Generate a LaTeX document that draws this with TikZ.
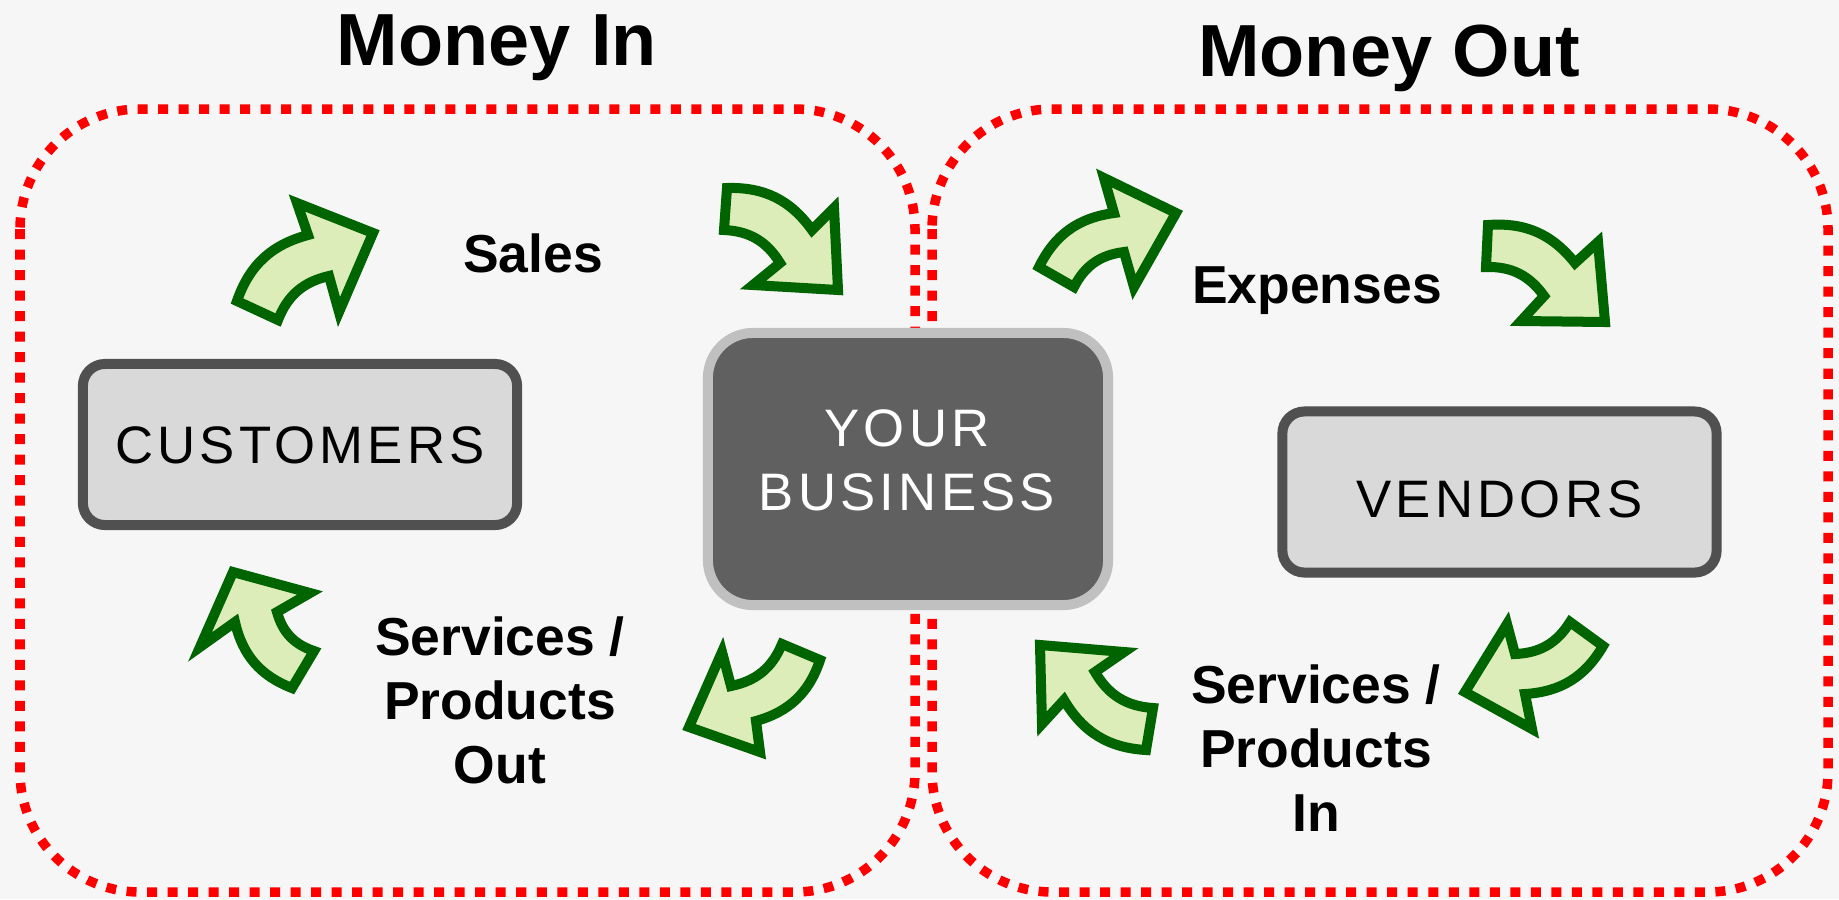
\documentclass[tikz,border=0pt]{standalone}
\usepackage{fontspec}
\setmainfont{Liberation Sans}
\newfontfamily\capsfont[LetterSpace=8]{Liberation Sans}
\usepackage{tikz}

\definecolor{bgcol}{RGB}{246,246,246}
\definecolor{dotred}{RGB}{255,0,0}
\definecolor{boxedge}{RGB}{80,80,80}
\definecolor{boxfill}{RGB}{217,217,217}
\definecolor{bizfill}{RGB}{96,96,96}
\definecolor{bizedge}{RGB}{192,192,192}
\definecolor{arrowgreen}{RGB}{0,100,0}
\definecolor{arrowfill}{RGB}{221,237,186}

\begin{document}
\begin{tikzpicture}[x=0.01cm,y=-0.01cm,
    ttl/.style={font=\bfseries\fontsize{21}{25}\selectfont,anchor=base},
    lbl/.style={font=\bfseries\fontsize{15.2}{18.2}\selectfont,align=center},
    dots/.style={draw=dotred,line width=0.095cm,dash pattern=on 0.1cm off 0.105cm,rounded corners=1.2cm},
    lightbox/.style={draw=boxedge,fill=boxfill,line width=0.1cm,rounded corners=0.22cm,
        minimum width=4.34cm,minimum height=1.61cm,inner sep=0pt,
        font=\capsfont\fontsize{15}{18}\selectfont,text height=0.38cm,text depth=0cm},
    darkbox/.style={draw=bizedge,fill=bizfill,line width=0.1cm,rounded corners=0.45cm,
        minimum width=4cm,minimum height=2.72cm,inner sep=0pt},
    biztext/.style={text=white,align=center,font=\capsfont\fontsize{15}{18.2}\selectfont},
    bent/.style={draw=arrowgreen,fill=arrowfill,line width=0.1cm,line join=miter}]

  \fill[bgcol] (0,0) rectangle (1839,899);
  \useasboundingbox (0,0) rectangle (1839,899);

  \draw[dots] (20,109) rectangle (915,892);
  \draw[dots] (932,109) rectangle (1828,892);

  \node[ttl] (moneyin)  at (497,65) {Money In};
  \node[ttl] (moneyout) at (1389,76) {Money Out};

  \node[lightbox] (cust) at (300,444.5) {CUSTOMERS};
  \node[darkbox]  (biz)  at (908,469) {};
  \node[biztext]  (bizlbl) at (907,460) {YOUR\\BUSINESS};
  \node[lightbox,text height=0.5cm] (vend) at (1499.5,492) {VENDORS};

  \node[lbl,anchor=base] (sales)    at (533,272) {Sales};
  \node[lbl,anchor=base] (expenses) at (1317,303) {Expenses};
  \node[lbl] (svcout) at (500,700) {Services /\\Products\\Out};
  \node[lbl] (svcin)  at (1316,748) {Services /\\Products\\In};

  % money in
  \filldraw[bent] (237,301) to[bend left=28] (308,235) -- (297,203) -- (373,233)
      -- (339,312) -- (329,276) to[bend right=28] (278,320) -- cycle;
  \filldraw[bent] (727,188) to[bend left=28] (812,230) -- (834,208) -- (838,290)
      -- (753,285) -- (780,263) to[bend right=28] (724,230) -- cycle;
  \filldraw[bent] (820,660) to[bend left=28] (756,721) -- (760,752) -- (689,727)
      -- (722,652) -- (731,686) to[bend right=28] (782,644) -- cycle;
  \filldraw[bent] (292,688) to[bend left=28] (235,622) -- (200,647) -- (233,572)
      -- (310,593) -- (277,612) to[bend right=28] (314,651) -- cycle;

  % money out
  \filldraw[bent] (1039,267) to[bend left=28] (1114,213) -- (1104,178) -- (1176,213)
      -- (1134,287) -- (1124,252) to[bend right=28] (1074,287) -- cycle;
  \filldraw[bent] (1488,225) to[bend left=28] (1575,263) -- (1598,242) -- (1605,322)
      -- (1521,321) -- (1544,296) to[bend right=28] (1486,267) -- cycle;
  \filldraw[bent] (1603,646) to[bend left=28] (1525,694) -- (1532,729) -- (1465,692)
      -- (1507,624) -- (1515,654) to[bend right=28] (1570,622) -- cycle;
  \filldraw[bent] (1146,750) to[bend left=28] (1064,700) -- (1042,724) -- (1040,645)
      -- (1124,652) -- (1095,672) to[bend right=28] (1153,708) -- cycle;
\end{tikzpicture}
\end{document}
